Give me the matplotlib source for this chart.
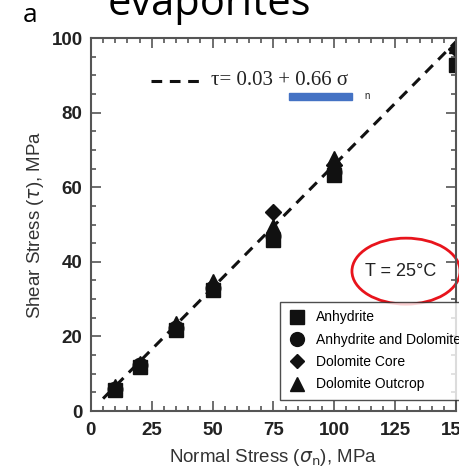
import numpy as np
import matplotlib.pyplot as plt
from matplotlib.lines import Line2D
from matplotlib.patches import Ellipse, Rectangle
from matplotlib.ticker import MultipleLocator

# datos
anh_x = [10, 20, 35, 50, 75, 100, 150]
anh_y = [5.6, 11.8, 21.7, 32.4, 45.8, 63.3, 92.8]
anh_dol_x = [10, 20, 35, 50, 75, 100]
anh_dol_y = [6.0, 12.3, 22.2, 33.0, 47.0, 64.0]
dol_core_x = [75, 100, 150]
dol_core_y = [53.4, 66.0, 97.0]
dol_out_x = [10, 20, 35, 50, 75, 100, 150]
dol_out_y = [6.8, 13.0, 23.6, 34.8, 49.6, 67.8, 98.0]
fit_a, fit_b = 0.03, 0.66
fit_x = [5, 150]

plt.rcParams['font.family'] = ['Liberation Sans', 'DejaVu Sans']

fig = plt.figure(figsize=(4.59, 4.70), dpi=100)
ax = fig.add_axes([0.198, 0.1255, 0.7955, 0.7935])

grey = '#555555'
ms = 10.5
ax.plot(anh_dol_x, anh_dol_y, 'o', color='#111111', ms=ms, label='Anhydrite and Dolomite')
ax.plot(dol_core_x, dol_core_y, 'D', color='#111111', ms=ms - 2.5, label='Dolomite Core')
ax.plot(dol_out_x, dol_out_y, '^', color='#111111', ms=ms, label='Dolomite Outcrop')
ax.plot(anh_x, anh_y, 's', color='#111111', ms=ms, label='Anhydrite')

xf = np.array(fit_x)
ax.plot(xf, fit_a + fit_b * xf, '--', color='#111111', lw=2.2, dashes=(3.5, 2.5), clip_on=False)

ax.set_xlim(0, 150)
ax.set_ylim(0, 100)
ax.xaxis.set_major_locator(MultipleLocator(25))
ax.xaxis.set_minor_locator(MultipleLocator(5))
ax.yaxis.set_major_locator(MultipleLocator(20))
ax.yaxis.set_minor_locator(MultipleLocator(5))
ax.tick_params(which='both', direction='in', top=True, right=True, color=grey, width=1.2)
ax.tick_params(which='major', length=7, labelsize=13.5, labelcolor='#222222')
ax.tick_params(axis='x', which='major', pad=8)
ax.tick_params(axis='y', which='major', pad=6)
ax.tick_params(which='minor', length=3.5)
for lab in ax.get_xticklabels() + ax.get_yticklabels():
    lab.set_fontweight('bold')
for s in ax.spines.values():
    s.set_color(grey)
    s.set_linewidth(1.5)

ax.set_xlabel(r'Normal Stress ($\sigma_{\rm n}$), MPa', fontsize=13.5, color='#333333', labelpad=6)
ax.set_ylabel(r'Shear Stress ($\tau$), MPa', fontsize=13.5, color='#333333', labelpad=4)
ax.xaxis.label.set_math_fontfamily('dejavusans')

h, l = ax.get_legend_handles_labels()
order = [3, 0, 1, 2]
leg = ax.legend([h[i] for i in order], [l[i] for i in order], loc='upper left',
                bbox_to_anchor=(0.518, 0.292), fontsize=10, frameon=True, fancybox=False,
                handlelength=1.2, handletextpad=0.8, borderpad=0.6, labelspacing=0.6,
                borderaxespad=0, markerscale=0.95)
leg.get_frame().set_edgecolor('#222222')
leg.get_frame().set_linewidth(1)
leg.set_clip_on(False)

# ecuacion del ajuste
ax.add_line(Line2D([0.165, 0.30], [0.885, 0.885], transform=ax.transAxes, color='#111111',
                   lw=2.2, dashes=(3.5, 2.5)))
ax.text(0.33, 0.885, 'τ= 0.03 + 0.66 σ', transform=ax.transAxes, fontsize=15,
        family=['Liberation Serif', 'DejaVu Serif'], va='center', color='#222222')
ax.text(0.75, 0.845, 'n', transform=ax.transAxes, fontsize=7, va='center', color='#222222')
ax.add_patch(Rectangle((0.543, 0.834), 0.173, 0.019, transform=ax.transAxes,
                       color='#4472C4', clip_on=False))

# anotacion de temperatura
ax.add_patch(Ellipse((0.863, 0.375), 0.296, 0.177, transform=ax.transAxes, fill=False,
                     edgecolor='#e8141c', lw=2, clip_on=False))
ax.text(0.849, 0.375, 'T = 25°C', transform=ax.transAxes, fontsize=13, ha='center',
        va='center', color='#222222')

fig.text(0.05, 0.953, 'a', fontsize=19, family=['Open Sans', 'DejaVu Sans'], va='baseline')
fig.text(0.235, 0.968, 'evaporites', fontsize=30, family=['Open Sans', 'DejaVu Sans'],
         va='baseline', ha='left')

fig.savefig('out.png', dpi=100)
